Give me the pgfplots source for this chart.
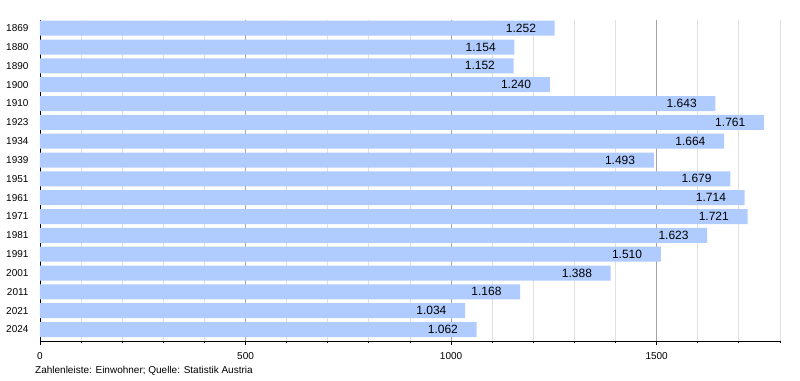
\documentclass[border=0pt]{standalone}
\usepackage{pgfplots}
\pgfplotsset{compat=1.18}
\usepackage{fontspec}
\setmainfont{Liberation Sans}
\definecolor{barblue}{RGB}{176,204,255}
\pgfplotstableread{
y x label
0 1062 1.062
1 1034 1.034
2 1168 1.168
3 1388 1.388
4 1510 1.510
5 1623 1.623
6 1721 1.721
7 1714 1.714
8 1679 1.679
9 1493 1.493
10 1664 1.664
11 1761 1.761
12 1643 1.643
13 1240 1.240
14 1152 1.152
15 1154 1.154
16 1252 1.252
}\datatable
\begin{document}
\begin{tikzpicture}[x=1pt,y=1pt]
\path[use as bounding box] (-40,-39) rectangle (760,341);
\begin{axis}[
  at={(0,0)}, anchor=south west,
  scale only axis, width=740pt, height=321pt,
  xmin=0, xmax=1800, ymin=-0.61, ymax=16.435,
  axis x line*=bottom, axis y line*=left,
  axis line style={black, line width=0.8pt},
  xtick={0,500,1000,1500},
  minor xtick={100,200,...,1800},
  xmajorgrids, xminorgrids,
  major grid style={draw={rgb,255:red,165;green,165;blue,165}, line width=0.8pt},
  minor grid style={draw={rgb,255:red,224;green,224;blue,224}, line width=0.8pt},
  tick align=outside,
  major tick length=4pt, minor tick length=2pt,
  x tick style={black, line width=0.8pt},
  ytick={0,...,16},
  yticklabels={2024,2021,2011,2001,1991,1981,1971,1961,1951,1939,1934,1923,1910,1900,1890,1880,1869},
  y tick style={draw=none},
  yticklabel style={font=\fontsize{10}{12}\selectfont, xshift=-4pt},
  xticklabel style={font=\fontsize{10}{12}\selectfont, yshift=-4pt},
  /pgf/number format/assume math mode=true,
  /pgf/number format/1000 sep={},
  xbar, bar width=15pt,
  nodes near coords,
  point meta=explicit symbolic,
  nodes near coords style={anchor=east, inner sep=0pt, xshift=-18.5pt, font=\fontsize{12}{14}\selectfont, text=black},
]
\addplot[fill=barblue, draw=none] table[x=x, y=y, meta=label] {\datatable};
\end{axis}
\node[anchor=west, inner sep=0pt, font=\fontsize{10}{12}\selectfont] at (-5,-30) {Zahlenleiste: Einwohner; Quelle: Statistik Austria};
\end{tikzpicture}
\end{document}
